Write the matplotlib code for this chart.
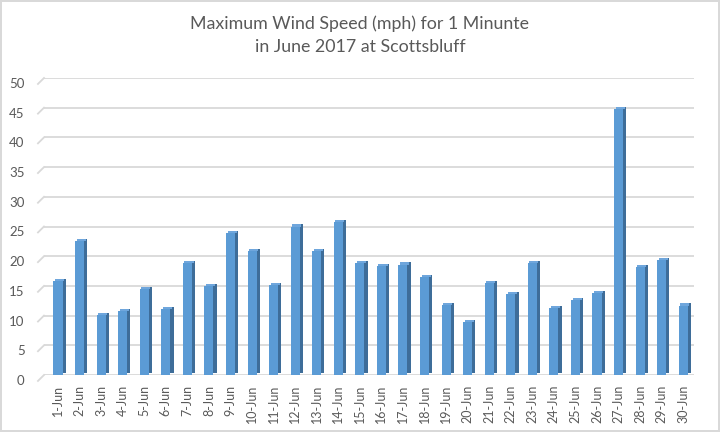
import matplotlib
matplotlib.use("Agg")
import matplotlib.pyplot as plt
import numpy as np

days = [f"{d}-Jun" for d in range(1, 31)]
speed = [15.8, 22.5, 10.1, 10.8, 14.5, 11.1, 18.9, 15.0, 23.9, 20.9,
         15.2, 25.0, 20.9, 25.7, 18.8, 18.4, 18.6, 16.5, 11.8, 8.9,
         15.5, 13.7, 18.8, 11.3, 12.6, 13.8, 44.8, 18.2, 19.3, 11.7]
yticks = list(range(0, 55, 5))

front = "#5b9bd5"
side = "#3e6d99"
top = "#6fa6dc"
grey = "#595959"

plt.rcParams['font.family'] = ['Lato', 'DejaVu Sans']

fig = plt.figure(figsize=(7.2, 4.32), dpi=100, edgecolor="#d9d9d9", linewidth=1.5)
ax = fig.add_axes([44/720, 57/432, 650/720, 297/432])

x = np.arange(1, 31)
w = 0.42   # front face
d = 0.15   # depth to the right
dy = 0.35  # depth upward

# side face, top face, then front face
ax.bar(x + w/2 + d/2, speed, width=d, bottom=dy, color=side, zorder=2)
ax.bar(x + d/2, dy, width=w, bottom=speed, color=top, zorder=2)
ax.bar(x, speed, width=w, color=front, zorder=3)

ax.set_xlim(0.35, 30.5)
ax.set_ylim(0, 50)
for t in yticks:
    ax.axhline(t, color="#d9d9d9", lw=1.3, zorder=1)
    ax.plot([0.07, 0.35], [t - 1.0, t], color="#d9d9d9", lw=1.3, clip_on=False)
    ax.text(-0.55, t - 1.0, str(t), ha="right", va="center", color=grey, fontsize=9.5)

ax.set_yticks([])
ax.set_xticks(x)
ax.set_xticklabels(days, rotation=90, color=grey, fontsize=9)
ax.tick_params(axis="x", length=0, pad=7)
for s in ax.spines.values():
    s.set_visible(False)

fig.text(0.5, 0.918, "Maximum Wind Speed (mph) for 1 Minunte\nin June 2017 at Scottsbluff",
         ha="center", va="center", color=grey, fontsize=12.8, linespacing=1.5)

fig.savefig("out.png", dpi=100, edgecolor=fig.get_edgecolor())
